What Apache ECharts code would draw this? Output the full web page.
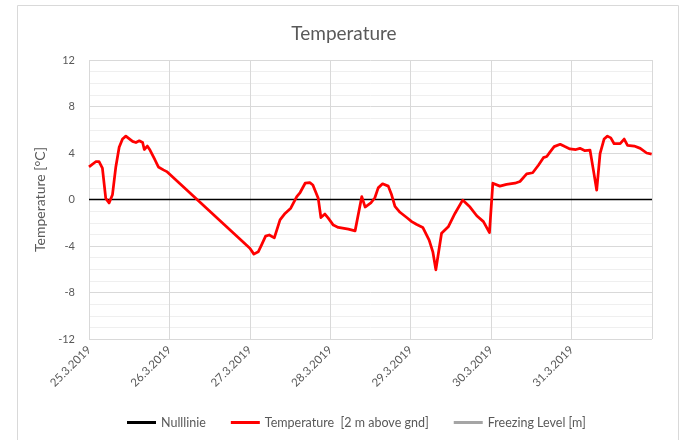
<!doctype html>
<html>
<head>
    <meta charset="utf-8">
    <title>Temperature</title>
    <script src="https://cdn.jsdelivr.net/npm/echarts@6/dist/echarts.min.js"></script>
    <style>
        body{
            margin:0;
            padding:0;
            background:#fff;
        }
        #chart{
            width:688px;
            height:440px;
        }
    </style>
</head>
<body>
<div id="chart"></div>
<script>
    // hours since 25.3.2019 00:00
    var hours = [0, 2, 3, 4, 5, 6, 7, 8, 9, 10, 11, 13, 14, 15, 16, 16.5, 17.4, 18.2, 19.7, 20.7, 22.2, 23.2,
        48, 49.2, 50.5, 51.5, 52.7, 53.8, 55.3, 57, 58.5, 60.2, 62, 63, 64.5, 65.9, 66.8, 68.4, 69.2, 70.4, 71.4,
        72.9, 74.4, 77.4, 79.4, 81.4, 82.4, 84.1, 85.3, 86.3, 87.6, 89.3, 90.3, 91.3, 92.8, 94.8, 96.3, 97.8,
        99.6, 101.5, 102.6, 103.5, 105.2, 107.2, 109.2, 111.5, 113.7, 115.7, 117.7, 119.5, 120.5, 122.6, 124.6,
        127.1, 128.6, 130.6, 132.4, 134.1, 135.6, 136.6, 137.6, 138.8, 140.6, 142, 143.5, 145.3, 146.5, 148,
        149.5, 150.5, 151.5, 152.5, 153.7, 154.7, 155.7, 156.7, 158.5, 159.7, 160.7, 162.7, 164.5, 166.4, 167.9];
    var temps = [2.8, 3.25, 3.25, 2.7, 0.1, -0.3, 0.4, 2.8, 4.5, 5.2, 5.45, 5.0, 4.9, 5.05, 4.9, 4.3, 4.6, 4.25, 3.4, 2.8, 2.55, 2.4,
        -4.2, -4.7, -4.5, -3.9, -3.15, -3.05, -3.3, -1.75, -1.2, -0.75, 0.25, 0.6, 1.4, 1.45, 1.25, 0.1, -1.55, -1.25, -1.6,
        -2.2, -2.4, -2.55, -2.7, 0.25, -0.65, -0.3, 0.15, 1.0, 1.35, 1.15, 0.4, -0.6, -1.1, -1.55, -1.9, -2.15,
        -2.4, -3.5, -4.5, -6.05, -2.9, -2.35, -1.2, -0.05, -0.65, -1.4, -1.9, -2.85, 1.4, 1.15, 1.3,
        1.4, 1.55, 2.2, 2.3, 2.95, 3.6, 3.7, 4.1, 4.55, 4.75, 4.55, 4.35, 4.3, 4.4, 4.2,
        4.25, 2.55, 0.8, 3.95, 5.2, 5.45, 5.3, 4.8, 4.8, 5.2, 4.65, 4.6, 4.4, 4.0, 3.9];
    var nullLine = [[0, 0], [168, 0]];
    var freezing = [];
    var dayLabels = ['25.3.2019', '26.3.2019', '27.3.2019', '28.3.2019', '29.3.2019', '30.3.2019', '31.3.2019'];
    var yTicks = [-12, -8, -4, 0, 4, 8, 12];

    var txt = '#595959';
    var font = 'Lato';

    var tempData = hours.map(function (h, i) { return [h, temps[i]]; });

    var myChart = echarts.init(document.getElementById('chart'));
    var option = {
        textStyle: { fontFamily: font },
        title: {
            text: 'Temperature',
            left: 'center',
            top: 19,
            textStyle: { color: txt, fontSize: 19, fontWeight: 'normal', fontFamily: font }
        },
        graphic: [{
            type: 'rect',
            shape: { x: 17.5, y: 5.5, width: 661, height: 440 },
            style: { fill: 'none', stroke: '#d9d9d9', lineWidth: 1 },
            silent: true
        }],
        grid: {
            left: 89,
            right: 36,
            top: 60,
            bottom: 101
        },
        legend: {
            top: 411,
            left: 122,
            itemGap: 25,
            itemWidth: 29,
            itemHeight: 3,
            icon: 'rect',
            textStyle: { color: txt, fontSize: 12.5, fontFamily: font },
            data: ['Nulllinie', 'Temperature  [2 m above gnd]', 'Freezing Level [m]']
        },
        xAxis: {
            type: 'value',
            min: 0,
            max: 168,
            interval: 24,
            axisLine: { show: false },
            axisTick: { show: false },
            splitLine: { show: true, lineStyle: { color: '#d9d9d9', width: 1 } },
            axisLabel: {
                rotate: 45,
                margin: 9,
                color: txt,
                fontSize: 11.5,
                fontFamily: font,
                showMaxLabel: false,
                formatter: function (v) {
                    return dayLabels[Math.round(v / 24)] || '';
                }
            }
        },
        yAxis: {
            type: 'value',
            min: yTicks[0],
            max: yTicks[yTicks.length - 1],
            interval: 4,
            name: 'Temperature [°C]',
            nameLocation: 'middle',
            nameGap: 34,
            nameTextStyle: { color: txt, fontSize: 14, fontFamily: font },
            axisLine: { show: false },
            axisTick: { show: false },
            axisLabel: { color: txt, fontSize: 11, fontFamily: font, margin: 14 },
            splitLine: { show: true, lineStyle: { color: '#d9d9d9', width: 1 } },
            minorTick: { show: false, splitNumber: 4 },
            minorSplitLine: { show: true, lineStyle: { color: '#efefef', width: 1 } }
        },
        series: [
            {
                name: 'Nulllinie',
                type: 'line',
                data: nullLine,
                showSymbol: false,
                color: '#000000',
                lineStyle: { color: '#000000', width: 1.5 },
                silent: true
            },
            {
                name: 'Temperature  [2 m above gnd]',
                type: 'line',
                data: tempData,
                showSymbol: false,
                color: '#ff0000',
                lineStyle: { color: '#ff0000', width: 2.75, join: 'round' }
            },
            {
                name: 'Freezing Level [m]',
                type: 'line',
                data: freezing,
                showSymbol: false,
                color: '#a5a5a5',
                lineStyle: { color: '#a5a5a5', width: 2.75 }
            }
        ]
    };
    myChart.setOption(option, true);
</script>
</body>
</html>
